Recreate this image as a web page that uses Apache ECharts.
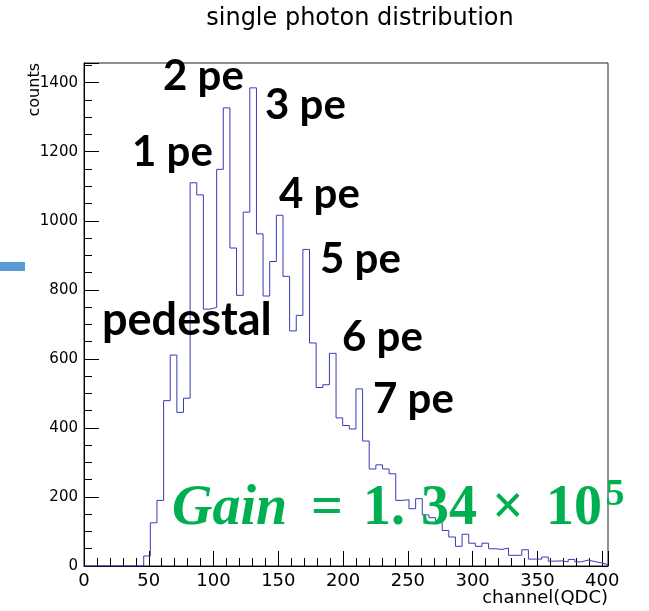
<!DOCTYPE html>
<html>
<head>
<meta charset="utf-8">
<script src="https://cdn.jsdelivr.net/npm/echarts@6/dist/echarts.min.js"></script>
<style>
html,body{margin:0;padding:0;background:#fff;}
#c{width:649px;height:611px;}
</style>
</head>
<body>
<div id="c"></div>
<script>
// ---- data ----
const binWidth = 5.12;          // channel width of one histogram bin
const xMin = 0;
const xMax = 404.48;            // 79 bins
const yMin = 0;
const yMax = 1457;
const counts = [
  0, 0, 0, 0, 0, 0, 0, 0, 0, 29,
  125, 190, 479, 611, 445, 486, 1110, 1075, 744, 749,
  1149, 1327, 921, 784, 1025, 1385, 962, 782, 882, 1016,
  839, 681, 726, 917, 646, 517, 525, 616, 429, 407,
  397, 513, 362, 281, 293, 281, 267, 190, 192, 166,
  195, 148, 140, 132, 103, 84, 57, 92, 66, 57,
  66, 50, 48, 52, 31, 31, 47, 20, 20, 26,
  14, 15, 12, 19, 12, 17, 13, 9, 4
];
const xMajorStep = 50, xMinorStep = 10;
const yMajorStep = 200, yMinorStep = 50;
const titleText = 'single photon distribution';
const xTitle = 'channel(QDC)';
const yTitle = 'counts';
const peLabels = ['1 pe', '2 pe', '3 pe', '4 pe', '5 pe', '6 pe', '7 pe', 'pedestal'];
const gainParts = ['Gain', '=', '1.', '34', '×', '10', '5'];

// histogram outline points (left edge of each bin, plus closing right edge)
const histPoints = counts.map((c, i) => [i * binWidth, c]);
histPoints.push([counts.length * binWidth, counts[counts.length - 1]]);

const chart = echarts.init(document.getElementById('c'), null, {renderer: 'canvas'});

const labelFont = 'DejaVu Sans';
const green = '#00B050';

const pePos = [[132,152],[163,76],[265,105],[279,194],[320,259],[342,337],[373,399],[102,320]];
const peSize = [42,42,42,42,42,42,42,45];

const graphics = [];
graphics.push({type:'text', x:360, y:19, style:{text:titleText, font:'24px "DejaVu Sans"', fill:'#000', align:'center', verticalAlign:'middle', textAlign:'center', textVerticalAlign:'middle'}});
graphics.push({type:'text', x:608, y:598, style:{text:xTitle, font:'18px "DejaVu Sans"', fill:'#000', align:'right', verticalAlign:'middle', textAlign:'right', textVerticalAlign:'middle'}});
graphics.push({type:'text', x:35, y:63, rotation:Math.PI/2, style:{text:yTitle, font:'16px "DejaVu Sans"', fill:'#000', align:'right', verticalAlign:'middle', textAlign:'right', textVerticalAlign:'middle'}});
peLabels.forEach((t, i) => {
  graphics.push({type:'text', x:pePos[i][0], y:pePos[i][1], z:100, style:{text:t, font:'bold ' + peSize[i] + 'px Lato', fill:'#000', align:'left', verticalAlign:'middle', textAlign:'left', textVerticalAlign:'middle'}});
});
// Gain = 1.34 x 10^5
const gy = 510;
const gSpec = [
  {x:172, y:gy, font:'italic bold 56px "Liberation Serif"', align:'left'},
  {x:327, y:gy, font:'bold 56px "Liberation Serif"', align:'center'},
  {x:363, y:gy, font:'bold 56px "Liberation Serif"', align:'left'},
  {x:477, y:gy, font:'bold 56px "Liberation Serif"', align:'right'},
  {x:508, y:gy, font:'bold 56px "Liberation Serif"', align:'center'},
  {x:574, y:gy, font:'bold 56px "Liberation Serif"', align:'center'},
  {x:615, y:495, font:'bold 38px "Liberation Serif"', align:'center'}
];
gainParts.forEach((t, i) => {
  const s = gSpec[i];
  graphics.push({type:'text', x:s.x, y:s.y, z:100, style:{text:t, font:s.font, fill:green, align:s.align, verticalAlign:'middle', textAlign:s.align, textVerticalAlign:'middle'}});
});
graphics.push({type:'rect', shape:{x:0, y:262, width:25, height:9}, style:{fill:'#5B9BD5'}});

const tickCol = '#000';
chart.setOption({
  animation: false,
  backgroundColor: '#fff',
  grid: {left:84, top:63, right:41, bottom:45, show:true, borderColor:'#222', borderWidth:1, backgroundColor:'transparent'},
  xAxis: [
    {type:'value', min:xMin, max:xMax, interval:xMinorStep, position:'bottom',
     axisLine:{show:true, lineStyle:{color:tickCol, width:1}},
     axisTick:{show:true, inside:true, length:8, lineStyle:{color:tickCol}},
     axisLabel:{show:false}, splitLine:{show:false}},
    {type:'value', min:xMin, max:xMax, interval:xMajorStep, position:'bottom',
     axisLine:{show:false},
     axisTick:{show:true, inside:true, length:15, lineStyle:{color:tickCol}},
     axisLabel:{show:true, fontFamily:labelFont, fontSize:18, color:'#000', margin:6,
       formatter: v => (Math.abs(v % xMajorStep) < 1e-6 ? String(v) : '')},
     splitLine:{show:false}}
  ],
  yAxis: [
    {type:'value', min:yMin, max:yMax, interval:yMinorStep, position:'left',
     axisLine:{show:true, lineStyle:{color:tickCol, width:1}},
     axisTick:{show:true, inside:true, length:8, lineStyle:{color:tickCol}},
     axisLabel:{show:false}, splitLine:{show:false}},
    {type:'value', min:yMin, max:yMax, interval:yMajorStep, position:'left',
     axisLine:{show:false},
     axisTick:{show:true, inside:true, length:15, lineStyle:{color:tickCol}},
     axisLabel:{show:true, fontFamily:labelFont, fontSize:15, color:'#000', margin:6,
       formatter: v => (Math.abs(v % yMajorStep) < 1e-6 ? String(v) : '')},
     splitLine:{show:false}}
  ],
  series: [{
    type:'line', xAxisIndex:0, yAxisIndex:0, data:histPoints, step:'end',
    symbol:'none', lineStyle:{color:'#3a3ab8', width:1}, silent:true, z:5
  }],
  graphic: graphics
});
</script>
</body>
</html>
